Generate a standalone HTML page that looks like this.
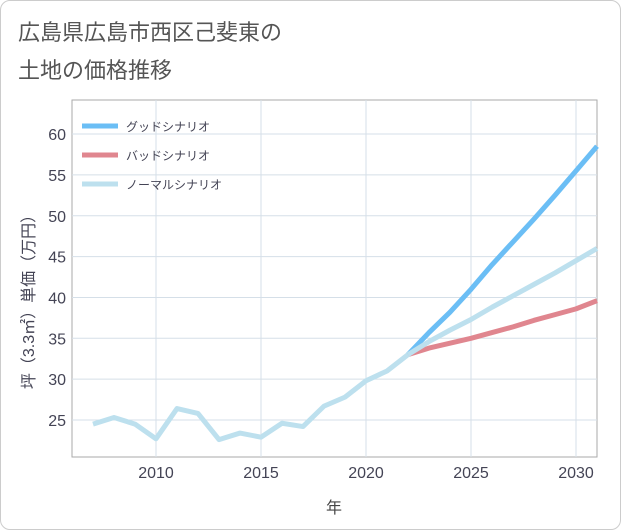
<!DOCTYPE html>
<html><head><meta charset="utf-8"><style>
body{margin:0;background:#fff;font-family:"Liberation Sans","Noto Sans CJK JP",sans-serif}
#card{position:absolute;left:0;top:0;width:619px;height:528px;border:1px solid #ccc;border-radius:10px;background:#fff}
</style></head><body>
<div id="card">
<svg width="621" height="530" style="position:absolute;left:-1px;top:-1px">
<text x="18" y="40" font-size="22" fill="#555">広島県広島市西区己斐東の</text>
<text x="18" y="78" font-size="22" fill="#555">土地の価格推移</text>
<rect x="72" y="100" width="525" height="357" fill="#fff" stroke="#aaa"/>
<g id="grid"></g><g id="lines"></g>
<g id="legend"></g>
<text x="334" y="513" font-size="16" fill="#444" text-anchor="middle">年</text>
<text transform="translate(34,298) rotate(-90)" font-size="16" fill="#445" text-anchor="middle">坪（3.3㎡）単価（万円）</text>
</svg></div>
<script>
const years=[2007,2008,2009,2010,2011,2012,2013,2014,2015,2016,2017,2018,2019,2020,2021,2022];
const normalHist=[24.5,25.3,24.5,22.7,26.4,25.8,22.6,23.4,22.9,24.6,24.2,26.7,27.8,29.8,31.0,33.0];
const projYears=[2022,2023,2024,2025,2026,2027,2028,2029,2030,2031];
const good=[33.0,35.7,38.2,41.0,44.0,46.8,49.6,52.5,55.5,58.5];
const bad=[33.0,33.8,34.4,35.0,35.7,36.4,37.2,37.9,38.6,39.6];
const normal=[33.0,34.6,36.0,37.3,38.8,40.2,41.6,43.0,44.5,46.0];
const xTicks=[2010,2015,2020,2025,2030];
const yTicks=[25,30,35,40,45,50,55,60];
const X=y=>156+(y-2010)*21, Y=v=>420-(v-25)*8.17;
const NS="http://www.w3.org/2000/svg";
function mk(t,a,p){const e=document.createElementNS(NS,t);for(const k in a)e.setAttribute(k,a[k]);p.appendChild(e);return e;}
const g=document.getElementById('grid');
xTicks.forEach(t=>{const l=mk('line',{x1:X(t),x2:X(t),y1:100,y2:457,stroke:'#d5dfe8'},g);


const tx=mk('text',{x:X(t),y:478,'font-size':16,fill:'#445','text-anchor':'middle'},g);tx.textContent=t;

});
yTicks.forEach(t=>{const l=mk('line',{x1:72,x2:597,y1:Y(t),y2:Y(t),stroke:'#d5dfe8'},g);


const tx=mk('text',{x:66,y:Y(t)+6,'font-size':16,fill:'#445','text-anchor':'end'},g);tx.textContent=t;

});
const L=document.getElementById('lines');
function line(xs,vs,c,n){const p=mk('polyline',{points:xs.map((x,i)=>X(x)+','+Y(vs[i])).join(' '),fill:'none',stroke:c,'stroke-width':5,'stroke-linejoin':'round'},L);

}
line(projYears,bad,'#e0868f','bad-scenario-line');
line(projYears,good,'#6bbef5','good-scenario-line');
line(projYears,normal,'#bde0ee','normal-scenario-line');
line(years,normalHist,'#bde0ee','historical-line');
const lg=document.getElementById('legend');
[['グッドシナリオ','#6bbef5',126],['バッドシナリオ','#e0868f',155],['ノーマルシナリオ','#bde0ee',184]].forEach(([t,c,y])=>{
const l=mk('line',{x1:82,x2:118,y1:y,y2:y,stroke:c,'stroke-width':5},lg);


const tx=mk('text',{x:126,y:y+5,'font-size':12,fill:'#445'},lg);tx.textContent=t;

});
</script></body></html>
